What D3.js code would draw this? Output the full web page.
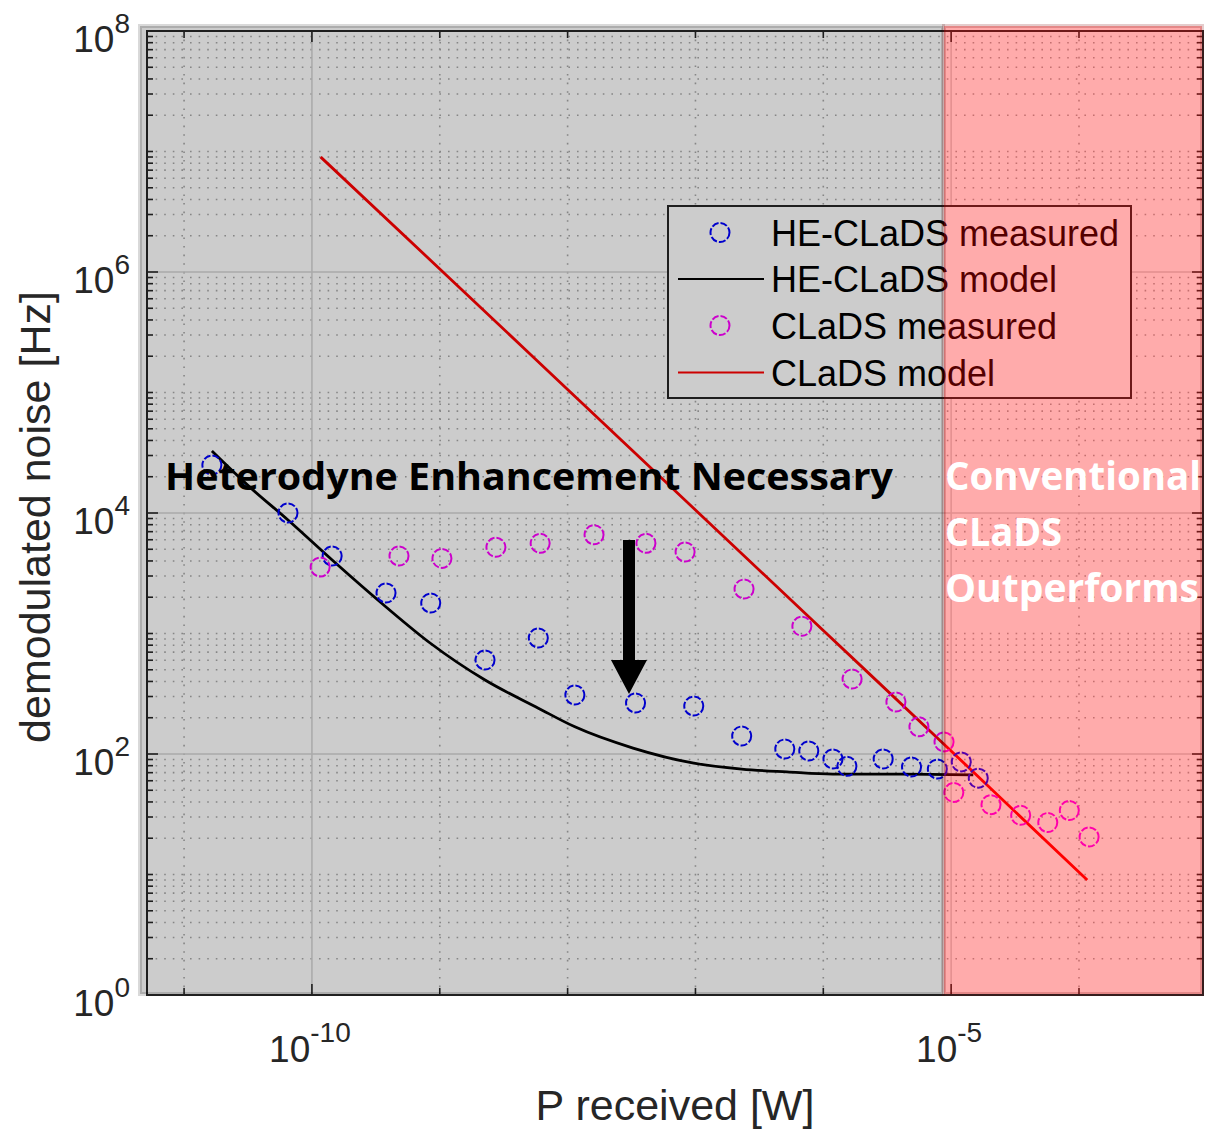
<!DOCTYPE html>
<html>
<head>
<meta charset="utf-8">
<script src="https://cdn.jsdelivr.net/npm/d3@7"></script>
<style>
  body { margin: 0; background: #fff; }
  text { font-family: "Liberation Sans", Arial, sans-serif; }
</style>
</head>
<body>
<div id="my_dataviz"></div>
<script>
// data
var heMeasuredP     = [1.65e-11, 6.5e-11, 1.44e-10, 3.8e-10, 8.5e-10, 2.26e-9, 5.9e-9, 1.14e-8, 3.4e-8, 9.7e-8,
                       2.3e-7, 5.0e-7, 7.7e-7, 1.19e-6, 1.53e-6, 2.94e-6, 4.9e-6, 7.8e-6, 1.2e-5, 1.63e-5];
var heMeasuredNoise = [2.5e4, 1.0e4, 4.4e3, 2.17e3, 1.79e3, 603, 918, 309, 265, 250,
                       141, 110, 106, 91, 79, 91, 78, 75, 86, 63];

var cladsMeasuredP     = [1.16e-10, 4.8e-10, 1.04e-9, 2.75e-9, 6.1e-9, 1.61e-8, 4.1e-8, 8.3e-8, 2.4e-7, 6.8e-7,
                          1.68e-6, 3.7e-6, 5.6e-6, 8.8e-6, 1.05e-5, 2.05e-5, 3.5e-5, 5.7e-5, 8.4e-5, 1.2e-4];
var cladsMeasuredNoise = [3.56e3, 4.4e3, 4.2e3, 5.2e3, 5.6e3, 6.6e3, 5.6e3, 4.75e3, 2.34e3, 1.15e3,
                          419, 270, 168, 126, 48, 38, 31, 27, 34, 20.5];

var heModelP     = [1.65e-11, 3.27e-11, 6.5e-11, 1.44e-10, 3.8e-10, 8.4e-10, 2.26e-9, 5.9e-9, 1.14e-8,
                    3.25e-8, 9.7e-8, 2.3e-7, 5.2e-7, 1.19e-6, 4.0e-6, 1.49e-5];
var heModelNoise = [3.27e4, 1.64e4, 8.75e3, 4.07e3, 1.66e3, 834, 411, 240, 168,
                    112, 84, 75, 71, 68, 68, 67];

var cladsModelP     = [1.17e-10, 1e-9, 1e-8, 1e-7, 1e-6, 1e-5, 1.16e-4];
var cladsModelNoise = [9.0e6, 1.06e6, 1.06e5, 1.06e4, 1.06e3, 106, 9.0];

var xTickExp = [-10, -5];
var xMinorExp = [-11, -9, -8, -7, -6, -4];
var yTickExp = [0, 2, 4, 6, 8];

var legendLabels = ["HE-CLaDS measured", "HE-CLaDS model", "CLaDS measured", "CLaDS model"];

// set the dimensions and margins of the graph
var margin = {top: 31, right: 2, bottom: 135, left: 147},
    width = 1205 - margin.left - margin.right,
    height = 1130 - margin.top - margin.bottom;

var svg = d3.select("#my_dataviz")
  .append("svg")
    .attr("width", 1205)
    .attr("height", 1130);

var chart = svg.append("g")
    .attr("transform", "translate(" + margin.left + "," + margin.top + ")");

var x = d3.scaleLog()
  .domain([Math.pow(10, -11.29), Math.pow(10, -3.03)])
  .range([0, width]);

var y = d3.scaleLog()
  .domain([1, 1e8])
  .range([height, 0]);

var axisColor = "#262626";

// grid
var yMinor = [];
for (var e = 0; e < 8; e++) {
  for (var k = 1; k <= 9; k++) {
    if (k == 1 && e % 2 == 0) continue;
    yMinor.push(k * Math.pow(10, e));
  }
}

chart.selectAll(".yminor")
  .data(yMinor)
  .enter().append("line")
    .attr("x1", 0).attr("x2", width)
    .attr("y1", function(d) { return y(d); })
    .attr("y2", function(d) { return y(d); })
    .attr("stroke", "#a8a8a8")
    .attr("stroke-width", 1.6)
    .attr("stroke-dasharray", "1.6,7");

chart.selectAll(".xminor")
  .data(xMinorExp)
  .enter().append("line")
    .attr("y1", 0).attr("y2", height)
    .attr("x1", function(d) { return x(Math.pow(10, d)); })
    .attr("x2", function(d) { return x(Math.pow(10, d)); })
    .attr("stroke", "#a8a8a8")
    .attr("stroke-width", 1.6)
    .attr("stroke-dasharray", "1.6,7");

chart.selectAll(".ymajor")
  .data(yTickExp)
  .enter().append("line")
    .attr("x1", 0).attr("x2", width)
    .attr("y1", function(d) { return y(Math.pow(10, d)); })
    .attr("y2", function(d) { return y(Math.pow(10, d)); })
    .attr("stroke", "#d4d4d4")
    .attr("stroke-width", 1.5);

chart.selectAll(".xmajor")
  .data(xTickExp)
  .enter().append("line")
    .attr("y1", 0).attr("y2", height)
    .attr("x1", function(d) { return x(Math.pow(10, d)); })
    .attr("x2", function(d) { return x(Math.pow(10, d)); })
    .attr("stroke", "#d4d4d4")
    .attr("stroke-width", 1.5);

// model lines
var line = d3.line()
  .curve(d3.curveMonotoneX)
  .x(function(d) { return x(d[0]); })
  .y(function(d) { return y(d[1]); });

chart.append("path")
  .datum(d3.zip(heModelP, heModelNoise))
  .attr("fill", "none")
  .attr("stroke", "#000")
  .attr("stroke-width", 2.8)
  .attr("d", line);

chart.append("path")
  .datum(d3.zip(cladsModelP, cladsModelNoise))
  .attr("fill", "none")
  .attr("stroke", "#ff0000")
  .attr("stroke-width", 2.8)
  .attr("d", line);

// measured points
chart.selectAll(".he")
  .data(d3.zip(heMeasuredP, heMeasuredNoise))
  .enter().append("circle")
    .attr("cx", function(d) { return x(d[0]); })
    .attr("cy", function(d) { return y(d[1]); })
    .attr("r", 9.5)
    .attr("fill", "none")
    .attr("stroke", "#0000ff")
    .attr("stroke-width", 2)
    .attr("stroke-dasharray", "7,2");

chart.selectAll(".clads")
  .data(d3.zip(cladsMeasuredP, cladsMeasuredNoise))
  .enter().append("circle")
    .attr("cx", function(d) { return x(d[0]); })
    .attr("cy", function(d) { return y(d[1]); })
    .attr("r", 9.5)
    .attr("fill", "none")
    .attr("stroke", "#ff00ff")
    .attr("stroke-width", 2)
    .attr("stroke-dasharray", "7,2");

// ticks (inward, both sides)
var yTicksAll = yMinor.concat(yTickExp.map(function(d) { return Math.pow(10, d); }));
yTicksAll.forEach(function(v) {
  var major = yTickExp.indexOf(Math.round(Math.log10(v) * 1000) / 1000) >= 0;
  var len = major ? 11 : 6;
  chart.append("line").attr("x1", 0).attr("x2", len)
    .attr("y1", y(v)).attr("y2", y(v)).attr("stroke", axisColor).attr("stroke-width", 1.6);
  chart.append("line").attr("x1", width).attr("x2", width - len)
    .attr("y1", y(v)).attr("y2", y(v)).attr("stroke", axisColor).attr("stroke-width", 1.6);
});
xTickExp.concat(xMinorExp).forEach(function(d) {
  var len = xTickExp.indexOf(d) >= 0 ? 11 : 7;
  var px = x(Math.pow(10, d));
  chart.append("line").attr("x1", px).attr("x2", px)
    .attr("y1", height).attr("y2", height - len).attr("stroke", axisColor).attr("stroke-width", 1.6);
  chart.append("line").attr("x1", px).attr("x2", px)
    .attr("y1", 0).attr("y2", len).attr("stroke", axisColor).attr("stroke-width", 1.6);
});

// box
chart.append("rect")
  .attr("width", width).attr("height", height)
  .attr("fill", "none").attr("stroke", axisColor).attr("stroke-width", 2);

// tick labels
chart.selectAll(".ylab")
  .data(yTickExp)
  .enter().append("text")
    .attr("x", -17)
    .attr("y", function(d) { return y(Math.pow(10, d)) + 21; })
    .attr("text-anchor", "end")
    .attr("fill", axisColor)
    .style("font-size", "37px")
    .each(function(d) {
      var t = d3.select(this);
      t.append("tspan").text("10");
      t.append("tspan").attr("dy", -19).style("font-size", "28px").text(d);
    });

chart.selectAll(".xlab")
  .data(xTickExp)
  .enter().append("text")
    .attr("x", function(d) { return x(Math.pow(10, d)) - 2; })
    .attr("y", height + 67)
    .attr("text-anchor", "middle")
    .attr("fill", axisColor)
    .style("font-size", "37px")
    .each(function(d) {
      var t = d3.select(this);
      t.append("tspan").text("10");
      t.append("tspan").attr("dy", -20).style("font-size", "28px").text(d);
    });

// axis labels
svg.append("text")
  .attr("x", 675)
  .attr("y", 1120)
  .attr("text-anchor", "middle")
  .attr("fill", axisColor)
  .style("font-size", "43px")
  .text("P received [W]");

svg.append("text")
  .attr("transform", "translate(50,517) rotate(-90)")
  .attr("text-anchor", "middle")
  .attr("fill", axisColor)
  .style("font-size", "43px")
  .text("demodulated noise [Hz]");

// legend
var lg = svg.append("g");
lg.append("rect")
  .attr("x", 668).attr("y", 206).attr("width", 463).attr("height", 192)
  .attr("fill", "#fff").attr("stroke", axisColor).attr("stroke-width", 2);
var rowY = [232.5, 279, 325.5, 372.5];
legendLabels.forEach(function(lab, i) {
  if (i == 0 || i == 2) {
    lg.append("circle").attr("cx", 720).attr("cy", rowY[i]).attr("r", 9.5)
      .attr("fill", "none").attr("stroke", i == 0 ? "#0000ff" : "#ff00ff")
      .attr("stroke-width", 2).attr("stroke-dasharray", "7,2");
  } else {
    lg.append("line").attr("x1", 678).attr("x2", 764)
      .attr("y1", rowY[i]).attr("y2", rowY[i])
      .attr("stroke", i == 1 ? "#000" : "#ff0000").attr("stroke-width", 2);
  }
  lg.append("text").attr("x", 771).attr("y", rowY[i] + 13)
    .attr("fill", "#000").style("font-size", "36px").text(lab);
});

// shaded regions
svg.append("rect")
  .attr("x", 140).attr("y", 26).attr("width", 803).attr("height", 968)
  .attr("fill", "rgba(0,0,0,0.2)")
  .attr("stroke", "rgba(0,0,0,0.15)").attr("stroke-width", 4);

svg.append("rect")
  .attr("x", 944).attr("y", 26).attr("width", 258).attr("height", 968)
  .attr("fill", "rgba(255,0,0,0.33)")
  .attr("stroke", "rgba(120,0,0,0.2)").attr("stroke-width", 4);

// annotations
svg.append("text")
  .attr("x", 165).attr("y", 490)
  .style("font-family", "'Open Sans', sans-serif")
  .style("font-weight", "bold")
  .style("font-size", "38px")
  .attr("textLength", 728)
  .attr("lengthAdjust", "spacingAndGlyphs")
  .attr("fill", "#000")
  .text("Heterodyne Enhancement Necessary");

var convLines = ["Conventional", "CLaDS", "Outperforms"];
var convWidth = [256, 117, 254];
svg.selectAll(".conv")
  .data(convLines)
  .enter().append("text")
    .attr("x", 945)
    .attr("y", function(d, i) { return 490 + i * 56; })
    .style("font-family", "'Open Sans', sans-serif")
    .style("font-weight", "bold")
    .style("font-size", "39px")
    .attr("textLength", function(d, i) { return convWidth[i]; })
    .attr("lengthAdjust", "spacingAndGlyphs")
    .attr("fill", "#fff")
    .text(function(d) { return d; });

// arrow
svg.append("path")
  .attr("d", "M623,540 L635,540 L635,660 L647,660 L629,694 L611,660 L623,660 Z")
  .attr("fill", "#000");
</script>
</body>
</html>
